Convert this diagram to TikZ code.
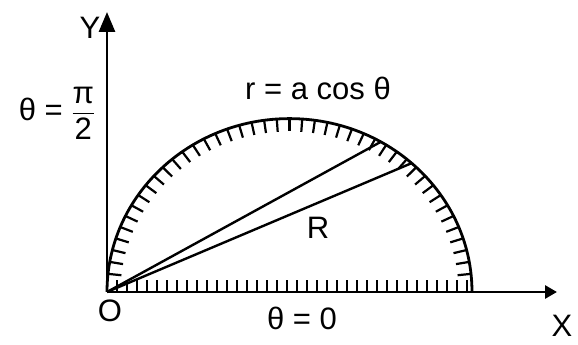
\documentclass[tikz,border=0pt]{standalone}
\usepackage{fontspec}
\setmainfont{Liberation Sans}
\usepackage{amsmath}
\usetikzlibrary{arrows.meta}

\begin{document}
\begin{tikzpicture}[x=1pt,y=1pt,
	axis/.style={line width=2.8pt},
	hatch/.style={line width=2.2pt},
	lbl/.style={font=\fontsize{31}{35}\selectfont, inner sep=0pt}]
	\useasboundingbox (0,0) rectangle (578,345);
	% origin and the two axes
	\coordinate (O) at (107,53);
	\coordinate (Ytop) at (107,333);
	\coordinate (Xend) at (557,53);
	\draw[axis, -{Triangle[length=20pt,width=16pt]}] (O) -- (Ytop);
	\draw[axis, -{Triangle[length=12pt,width=13pt]}] (O) -- (Xend);
	% the circle r = a cos theta, diameter along the x axis
	\begin{scope}[shift={(O)}, yscale=0.95]
		\draw[axis] (365,0) arc[start angle=0, end angle=180, radius=182.5];
		% hatching inside the arc
		\foreach \a in {6,10,...,174}
			\draw[hatch] ([shift={(182.5,0)}] \a:182.5) -- ([shift={(182.5,0)}] \a:169);
		% hatching along the diameter
		\foreach \x in {10,20,...,360}
			\draw[hatch] (\x,0) -- (\x,13);
		\coordinate (P1) at ([shift={(182.5,0)}] 60:182.5);
		\coordinate (P2) at ([shift={(182.5,0)}] 48:182.5);
	\end{scope}
	% two radii from O
	\draw[line width=2.4pt] (O) -- (P1);
	\draw[line width=2.4pt] (O) -- (P2);
	% labels
	\node[lbl] (ylbl) at (90,317) {Y};
	\node[lbl] (half) at (57,232) {θ = $\dfrac{\hbox{π}}{\hbox{2}}$};
	\node[lbl] (curve) at (318,257) {r = a cos θ};
	\node[lbl] (region) at (318,117) {R};
	\node[lbl] (olbl) at (110,34) {O};
	\node[lbl] (zero) at (302,27) {θ = 0};
	\node[lbl] (xlbl) at (562,19) {X};
\end{tikzpicture}
\end{document}
